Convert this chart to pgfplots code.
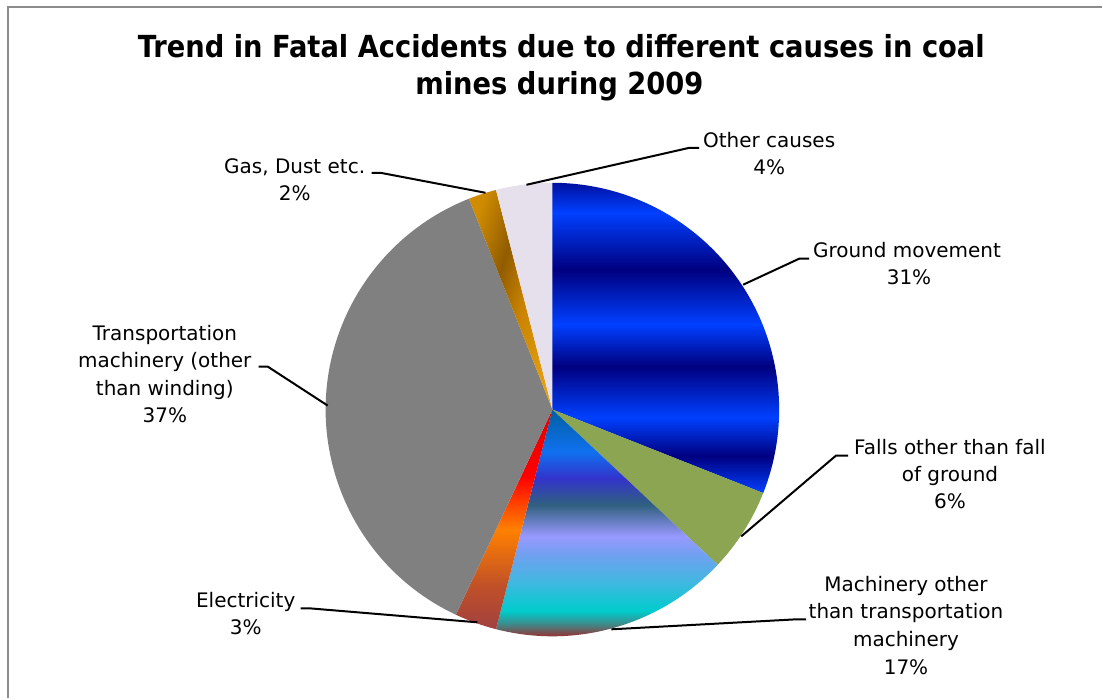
\documentclass[border=0pt]{standalone}
\usepackage{fontspec}
\setmainfont{DejaVu Sans}
\newfontfamily\titlefont{DejaVu Sans Condensed}
\usepackage{pgfplots}
\pgfplotsset{compat=1.18}

% values (percent), clockwise from 12 o'clock
\def\vGround{31}
\def\vFalls{6}
\def\vMach{17}
\def\vElec{3}
\def\vTrans{37}
\def\vGas{2}
\def\vOther{4}

\pgfmathsetmacro{\aA}{90}
\pgfmathsetmacro{\aB}{\aA-3.6*\vGround}
\pgfmathsetmacro{\aC}{\aB-3.6*\vFalls}
\pgfmathsetmacro{\aD}{\aC-3.6*\vMach}
\pgfmathsetmacro{\aE}{\aD-3.6*\vElec}
\pgfmathsetmacro{\aF}{\aE-3.6*\vTrans}
\pgfmathsetmacro{\aG}{\aF-3.6*\vGas}
\pgfmathsetmacro{\aH}{\aG-3.6*\vOther}
\def\R{113.5pt}

\definecolor{navy}{RGB}{0,0,128}
\definecolor{bblue}{RGB}{0,64,255}
\definecolor{mblue}{RGB}{0,16,160}
\definecolor{fallsgreen}{RGB}{139,165,82}
\definecolor{transgray}{RGB}{128,128,128}
\definecolor{otherlav}{RGB}{230,224,236}
\definecolor{framegray}{RGB}{140,140,140}

\definecolor{m1}{RGB}{192,0,0}
\definecolor{m2}{RGB}{170,30,30}
\definecolor{m3}{RGB}{64,136,136}
\definecolor{m4}{RGB}{0,204,204}
\definecolor{m5}{RGB}{64,184,224}
\definecolor{m6}{RGB}{112,160,240}
\definecolor{m7}{RGB}{153,153,255}
\definecolor{m8}{RGB}{48,96,128}
\definecolor{m9}{RGB}{51,51,204}
\definecolor{m10}{RGB}{16,112,240}
\definecolor{m11}{RGB}{0,96,160}

\definecolor{e1}{RGB}{160,64,64}
\definecolor{e2}{RGB}{192,80,40}
\definecolor{e3}{RGB}{255,128,0}
\definecolor{e4}{RGB}{255,0,0}
\definecolor{e5}{RGB}{224,0,0}

\definecolor{g1}{RGB}{208,140,0}
\definecolor{g2}{RGB}{145,92,0}
\definecolor{g3}{RGB}{200,130,0}
\definecolor{g4}{RGB}{228,160,16}

\pgfdeclareverticalshading{groundsh}{100bp}{color(0bp)=(bblue); color(25bp)=(bblue); color(31bp)=(navy); color(37.2bp)=(bblue); color(45.4bp)=(navy); color(52.2bp)=(bblue); color(61bp)=(navy); color(70.2bp)=(bblue); color(75bp)=(mblue); color(100bp)=(mblue)}
\pgfdeclareverticalshading{machsh}{100bp}{color(0bp)=(m1); color(25bp)=(m1); color(27.2bp)=(m2); color(30.3bp)=(m3); color(33.1bp)=(m4); color(39.1bp)=(m5); color(44.8bp)=(m6); color(48.6bp)=(m7); color(55.2bp)=(m8); color(60.7bp)=(m9); color(66.2bp)=(m10); color(75bp)=(m11); color(100bp)=(m11)}
\pgfdeclareverticalshading{elecsh}{100bp}{color(0bp)=(e1); color(25bp)=(e1); color(34.8bp)=(e2); color(47.7bp)=(e3); color(59.8bp)=(e4); color(75bp)=(e5); color(100bp)=(e5)}
\pgfdeclarehorizontalshading{gassh}{100bp}{color(0bp)=(g1); color(25bp)=(g1); color(42bp)=(g2); color(55bp)=(g3); color(75bp)=(g4); color(100bp)=(g4)}

\begin{document}
\begin{tikzpicture}
\begin{axis}[
  width=551.5pt, height=349.5pt, scale only axis,
  xmin=0, xmax=1103, ymin=0, ymax=699, y dir=reverse,
  hide axis, clip=false,
  every node/.style={font=\fontsize{10.5}{13.5}\selectfont, inner sep=0pt},
]
\path (axis cs:0,0) rectangle (axis cs:1103,699);
% frame
\draw[framegray, line width=1.2pt] (axis cs:8,699) -- (axis cs:8,7) -- (axis cs:1103,7);

% pie slices
\shade[shading=groundsh] (axis cs:553,410) -- ++(canvas polar cs:angle=\aA,radius=\R) arc[start angle=\aA,end angle=\aB,radius=\R] -- cycle;
\fill[fallsgreen] (axis cs:553,410) -- ++(canvas polar cs:angle=\aB,radius=\R) arc[start angle=\aB,end angle=\aC,radius=\R] -- cycle;
\shade[shading=machsh] (axis cs:553,410) -- ++(canvas polar cs:angle=\aC,radius=\R) arc[start angle=\aC,end angle=\aD,radius=\R] -- cycle;
\shade[shading=elecsh] (axis cs:553,410) -- ++(canvas polar cs:angle=\aD,radius=\R) arc[start angle=\aD,end angle=\aE,radius=\R] -- cycle;
\fill[transgray] (axis cs:553,410) -- ++(canvas polar cs:angle=\aE,radius=\R) arc[start angle=\aE,end angle=\aF,radius=\R] -- cycle;
\shade[shading=gassh, shading angle=-18] (axis cs:553,410) -- ++(canvas polar cs:angle=\aF,radius=\R) arc[start angle=\aF,end angle=\aG,radius=\R] -- cycle;
\fill[otherlav] (axis cs:553,410) -- ++(canvas polar cs:angle=\aG,radius=\R) arc[start angle=\aG,end angle=\aH,radius=\R] -- cycle;

% leader lines
\draw[black, line width=1pt] (axis cs:527,185) -- (axis cs:690,148) -- (axis cs:700,148);
\draw[black, line width=1pt] (axis cs:486,193) -- (axis cs:381,173) -- (axis cs:372,173);
\draw[black, line width=1pt] (axis cs:744,285) -- (axis cs:800,259) -- (axis cs:810,259);
\draw[black, line width=1pt] (axis cs:742,537) -- (axis cs:837,456) -- (axis cs:849,456);
\draw[black, line width=1pt] (axis cs:612,630) -- (axis cs:797,620) -- (axis cs:807,620);
\draw[black, line width=1pt] (axis cs:478,623) -- (axis cs:310,609) -- (axis cs:301,609);
\draw[black, line width=1pt] (axis cs:328,406) -- (axis cs:268,367) -- (axis cs:259,367);

% title
\node[anchor=base, font=\titlefont\bfseries\fontsize{15.2}{19}\selectfont] at (axis cs:562,58) {Trend in Fatal Accidents due to different causes in coal};
\node[anchor=base, font=\titlefont\bfseries\fontsize{15.2}{19}\selectfont] at (axis cs:560,95) {mines during 2009};

% labels
\node[anchor=base] at (axis cs:770,148) {Other causes};
\node[anchor=base] at (axis cs:770,175) {4\%};
\node[anchor=base] at (axis cs:295,174) {Gas, Dust etc.};
\node[anchor=base] at (axis cs:295,201) {2\%};
\node[anchor=base] at (axis cs:908,258) {Ground movement};
\node[anchor=base] at (axis cs:910,285) {31\%};
\node[anchor=base] at (axis cs:951,455) {Falls other than fall};
\node[anchor=base] at (axis cs:951,482) {of ground};
\node[anchor=base] at (axis cs:951,509) {6\%};
\node[anchor=base] at (axis cs:907,592) {Machinery other};
\node[anchor=base] at (axis cs:907,619) {than transportation};
\node[anchor=base] at (axis cs:907,647) {machinery};
\node[anchor=base] at (axis cs:907,675) {17\%};
\node[anchor=base] at (axis cs:246,608) {Electricity};
\node[anchor=base] at (axis cs:246,635) {3\%};
\node[anchor=base] at (axis cs:165,341) {Transportation};
\node[anchor=base] at (axis cs:165,368) {machinery (other};
\node[anchor=base] at (axis cs:165,396) {than winding)};
\node[anchor=base] at (axis cs:165,423) {37\%};
\end{axis}
\end{tikzpicture}
\end{document}
